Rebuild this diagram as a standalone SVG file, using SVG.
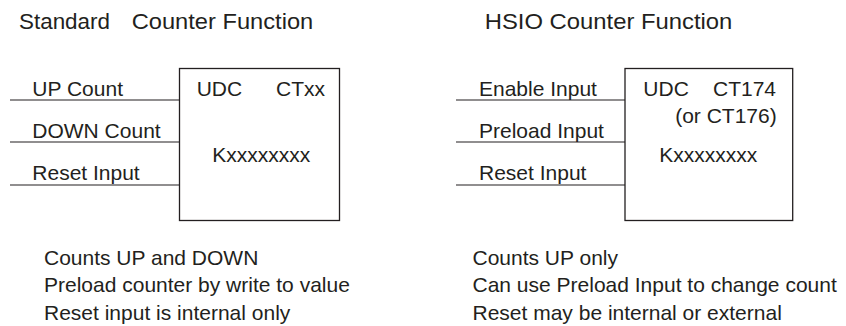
<svg xmlns="http://www.w3.org/2000/svg" width="846" height="326" viewBox="0 0 846 326">
<style>
text{font-family:"Liberation Sans",Arial,sans-serif;font-size:21px;fill:#231f20}
.t{font-size:21.5px}
.box{fill:#fff;stroke:#231f20;stroke-width:1.3}
.wire{stroke:#231f20;stroke-width:1.2;fill:none}
</style>
<rect width="846" height="326" fill="#fff"/>
<g id="title-left"><text class="t" y="29"><tspan x="19" textLength="91" lengthAdjust="spacingAndGlyphs">Standard</tspan><tspan x="131.7" textLength="181.6" lengthAdjust="spacingAndGlyphs">Counter Function</tspan></text></g>
<g id="title-right"><text class="t" x="484.7" y="29" textLength="247.7" lengthAdjust="spacingAndGlyphs">HSIO Counter Function</text></g>
<g id="connectors">
<path class="wire" d="M10 100H179.5M10 142H179.5M10 185H179.5"/>
<path class="wire" d="M456 100H625M456 142H625M456 185H625"/>
</g>
<g id="labels-left">
<text x="32.3" y="96">UP Count</text>
<text x="32.3" y="138">DOWN Count</text>
<text x="32.3" y="180">Reset Input</text>
</g>
<g id="labels-right">
<text x="479" y="96">Enable Input</text>
<text x="479" y="138">Preload Input</text>
<text x="479" y="180">Reset Input</text>
</g>
<g id="udc-standard">
<rect class="box" x="179.5" y="68.5" width="160" height="152"/>
<text x="196.7" y="96">UDC</text>
<text x="276" y="96">CTxx</text>
<text x="212.3" y="162">Kxxxxxxxx</text>
</g>
<g id="udc-hsio">
<rect class="box" x="625" y="68.5" width="167.7" height="152"/>
<text x="643.3" y="96">UDC</text>
<text x="776" y="96" text-anchor="end">CT174</text>
<text x="776.7" y="123" text-anchor="end">(or CT176)</text>
<text x="659.3" y="162">Kxxxxxxxx</text>
</g>
<g id="notes-left">
<text x="44" y="264.5">Counts UP and DOWN</text>
<text x="44" y="292">Preload counter by write to value</text>
<text x="44" y="319.5">Reset input is internal only</text>
</g>
<g id="notes-right">
<text x="472.5" y="264.5">Counts UP only</text>
<text x="472.5" y="292">Can use Preload Input to change count</text>
<text x="472.5" y="319.5">Reset may be internal or external</text>
</g>
</svg>
